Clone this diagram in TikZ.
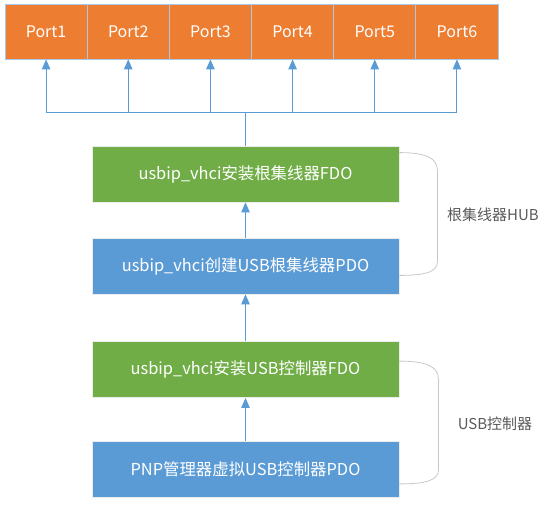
\documentclass[tikz,border=0pt]{standalone}
\usepackage{fontspec}
\setmainfont{Noto Sans CJK SC}
\usetikzlibrary{arrows.meta,calc}
\definecolor{portor}{HTML}{ED7D31}
\definecolor{fgreen}{HTML}{70AD47}
\definecolor{pblue}{HTML}{5B9BD5}
\definecolor{lineblue}{HTML}{5B9BD5}
\definecolor{divblue}{HTML}{A9C8E8}
\definecolor{brkgray}{HTML}{C8C8C8}
\definecolor{lbl}{HTML}{595959}
\tikzset{
  portbox/.style={fill=portor, draw=divblue, line width=0.8pt, minimum width=82.17pt, minimum height=55pt, inner sep=0pt, text=white, font=\fontsize{16}{19}\selectfont},
  layer/.style={draw=white!85!gray, line width=0.8pt, minimum width=307pt, minimum height=56pt, inner sep=0pt, text=white, font=\fontsize{16.4}{19}\selectfont},
  fdo/.style={layer, fill=fgreen},
  pdo/.style={layer, fill=pblue},
  arr/.style={draw=lineblue, line width=0.9pt, -{Triangle[width=8.5pt,length=10pt]}},
  wire/.style={draw=lineblue, line width=0.9pt},
  brk/.style={draw=brkgray, line width=0.8pt},
  sidelbl/.style={text=lbl, font=\fontsize{15}{18}\selectfont, inner sep=0pt}
}
\begin{document}
\begin{tikzpicture}[x=1pt,y=-1pt]
\useasboundingbox (0,0) rectangle (549,506);
% ports
\foreach \i in {1,...,6} {
  \node[portbox] (p\i) at ({5+82.17*(\i-0.5)},31.5) {Port\i};
}
% layers
\node[fdo] (g1) at (245.5,174) {usbip\_vhci安装根集线器FDO};
\node[pdo] (b1) at (245.5,266) {usbip\_vhci创建USB根集线器PDO};
\node[fdo] (g2) at (245.5,369.5) {usbip\_vhci安装USB控制器FDO};
\node[pdo] (b2) at (245.5,469.5) {PNP管理器虚拟USB控制器PDO};
% arrows
\draw[arr] (b2.north) -- (g2.south);
\draw[arr] (g2.north) -- (b1.south);
\draw[arr] (b1.north) -- (g1.south);
\coordinate (jn) at (245.5,112);
\draw[wire] (g1.north) -- (jn);
\foreach \i in {1,...,6} {
  \draw[arr] (jn) -| (p\i.south);
}
% brackets
\coordinate (h1) at ($(g1.north east)+(0,7)$);
\coordinate (h2) at ($(b1.south east)+(0,-19)$);
\draw[brk] (h1) .. controls ($(h1)+(28,0)$) and ($(h1)+(38,6)$) .. ($(h1)+(38,18)$)
  -- ($(h2)+(38,-14)$) .. controls ($(h2)+(38,-4)$) and ($(h2)+(28,0)$) .. (h2);
\coordinate (u1) at ($(g2.north east)+(0,20)$);
\coordinate (u2) at ($(b2.south east)+(0,-14)$);
\draw[brk] (u1) .. controls ($(u1)+(28,0)$) and ($(u1)+(39,6)$) .. ($(u1)+(39,18)$)
  -- ($(u2)+(39,-14)$) .. controls ($(u2)+(39,-4)$) and ($(u2)+(28,0)$) .. (u2);
\node[sidelbl] (hubl) at (493,215) {根集线器HUB};
\node[sidelbl] (usbl) at (495,424) {USB控制器};
\end{tikzpicture}
\end{document}
